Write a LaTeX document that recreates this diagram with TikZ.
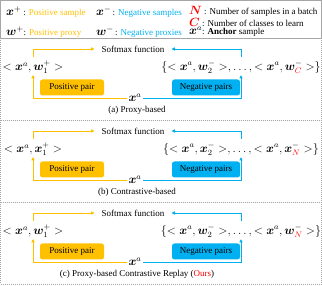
\documentclass[tikz,border=0pt]{standalone}
\usepackage{fontspec}
\setmainfont{Liberation Serif}
\usepackage{amsmath,bm}
\usetikzlibrary{arrows.meta}
\definecolor{posc}{HTML}{FFC000}
\definecolor{negc}{HTML}{00B0F0}
\definecolor{frc}{HTML}{A6A6A6}
\newcommand\symb[1]{{\fontsize{11.5}{13}\selectfont$#1$}}
\newcommand\mypanel[6]{%
  \draw[dotframe] (0.5,#2) rectangle (321.5,{#2+82});
  \node[smx] (#1sm) at (133,{#2+11}) {Softmax function};
  \node[tup] (#1lt) at (33,{#2+29}) {$<\bm{x}^{a},\bm{#3}_1^{+}>$};
  \node[tup] (#1rt) at (241,{#2+29}) {$\{<\bm{x}^{a},\bm{#4}_2^{-}>,\ldots,<\bm{x}^{a},\bm{#4}^{-}_{\textcolor{red}{#5}}>\}$};
  \node[pbox] (#1pb) at (72,{#2+49.5}) {Positive pair};
  \node[nbox] (#1nb) at (206,{#2+49.5}) {Negative pairs};
  \node[anc] (#1xa) at (135,{#2+60}) {$\bm{x}^{a}$};
  \node[txt] (#1cap) at (137,{#2+72}) {#6};
  \draw[pline,arr,shorten <=3pt] (#1lt.north) |- (#1sm.west);
  \draw[nline,arr,shorten <=3pt] (#1rt.north) |- (#1sm.east);
  \draw[pline,arr,shorten >=1pt] (#1xa.west) -| (#1lt.south);
  \draw[nline,arr,shorten >=1pt] (#1xa.east) -| (#1rt.south);
}
\begin{document}
\begin{tikzpicture}[x=1pt,y=-1pt,
  txt/.style={font=\fontsize{9}{11}\selectfont, inner sep=0pt},
  leg/.style={font=\fontsize{9}{11}\selectfont, inner sep=0pt, anchor=west},
  smx/.style={font=\fontsize{9}{11}\selectfont, inner xsep=7pt, inner ysep=0pt},
  tup/.style={font=\fontsize{12}{14}\selectfont, inner sep=0.5pt},
  anc/.style={font=\fontsize{12}{14}\selectfont, inner sep=1.5pt},
  pline/.style={draw=posc, line width=0.9pt},
  nline/.style={draw=negc, line width=0.9pt},
  arr/.style={-{Triangle[length=3.2pt,width=3.2pt]}},
  pbox/.style={fill=posc, rounded corners=2.5pt, minimum width=64pt, minimum height=16pt, inner sep=0pt, font=\fontsize{9}{11}\selectfont},
  nbox/.style={fill=negc, rounded corners=2.5pt, minimum width=68pt, minimum height=16pt, inner sep=0pt, font=\fontsize{9}{11}\selectfont},
  dotframe/.style={draw=frc, line width=0.5pt, dash pattern=on 1pt off 1pt},
  solframe/.style={draw=frc, line width=0.6pt}]
\useasboundingbox (0,0) rectangle (322,286);
% legend
\draw[solframe] (0.5,0.5) rectangle (321.5,38);
\node[leg] (l1) at (6,12) {\symb{\bm{x}^{+}} : \textcolor{posc}{Positive sample}};
\node[leg] (l2) at (96,12) {\symb{\bm{x}^{-}}\,: \textcolor{negc}{Negative samples}};
\node[leg] (l3) at (189,11) {\symb{\textcolor{red}{\bm{N}}} : Number of samples in a batch};
\node[leg] (l4) at (189,22) {\symb{\textcolor{red}{\bm{C}}} : Number of classes to learn};
\node[leg] (l5) at (6,32) {\symb{\bm{w}^{+}}: \textcolor{posc}{Positive proxy}};
\node[leg] (l6) at (96,32) {\symb{\bm{w}^{-}}\,: \textcolor{negc}{Negative proxies}};
\node[leg] (l7) at (189,32) {\symb{\bm{x}^{a}}: \textbf{Anchor} sample};
% panels
\mypanel{a}{38}{w}{w}{C}{(a) Proxy-based}
\mypanel{b}{120}{x}{x}{N}{(b) Contrastive-based}
\mypanel{c}{202}{w}{w}{N}{(c) Proxy-based Contrastive Replay (\textcolor{red}{Ours})}
\end{tikzpicture}
\end{document}
